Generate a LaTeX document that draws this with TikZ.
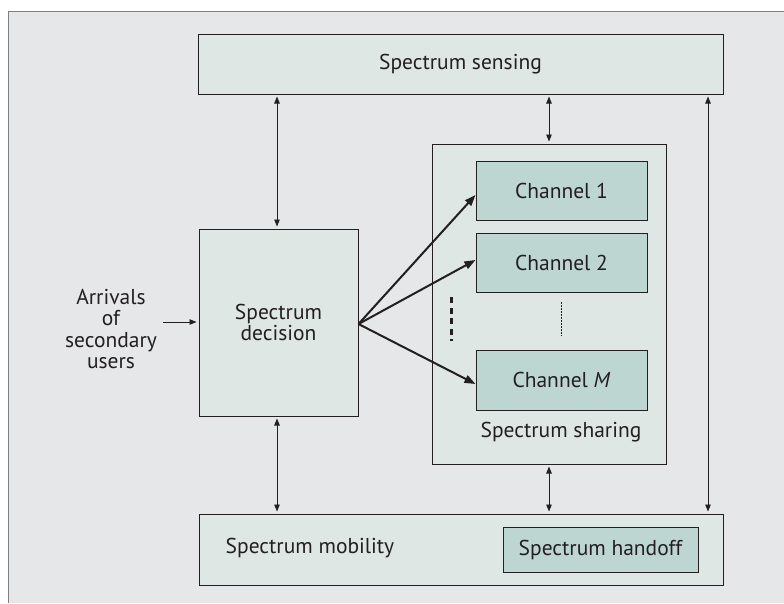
\documentclass[tikz,border=0pt]{standalone}
\usepackage{fontspec}
\setmainfont{PT Sans}
\usetikzlibrary{arrows.meta}
\definecolor{bgframe}{HTML}{E6E7E9}
\definecolor{framel}{HTML}{7F7F7F}
\definecolor{boxfill}{HTML}{DFE7E4}
\definecolor{chfill}{HTML}{BDD6D2}
\definecolor{ink}{HTML}{231F20}
\begin{document}
\begin{tikzpicture}[x=1pt,y=-1pt,
  font=\fontsize{21.5}{21.5}\selectfont,
  every node/.style={text=ink},
  bigbox/.style={draw=ink,line width=1pt,fill=boxfill,inner sep=0pt,anchor=center},
  chbox/.style={draw=ink,line width=1pt,fill=chfill,inner sep=0pt,anchor=center},
  biarrow/.style={draw=ink,line width=0.9pt,{Triangle[length=7pt,width=5.5pt]}-{Triangle[length=7pt,width=5.5pt]},shorten <=2pt,shorten >=2pt},
  onearrow/.style={draw=ink,line width=0.9pt,-{Triangle[length=7pt,width=5.5pt]},shorten >=2pt},
  fanarrow/.style={draw=ink,line width=2pt,-{Triangle[length=11pt,width=8pt]}}
]
\useasboundingbox (0,0) rectangle (784,603);
\fill[bgframe] (8,11) rectangle (784,603);
\draw[framel,line width=1pt] (8,603) -- (8,11) -- (784,11);

\node[bigbox,minimum width=525pt,minimum height=60pt] (sensing) at (460.5,64) {};
\node at (sensing.center) {Spectrum sensing};

\node[bigbox,minimum width=159pt,minimum height=187pt,align=center] (decision) at (278.5,322.5) {Spectrum\\decision};

\node[bigbox,minimum width=524pt,minimum height=71pt] (mobility) at (461,549.5) {};
\node (mobtext) at (310,548) {Spectrum mobility};
\node[chbox,minimum width=195pt,minimum height=45pt] (handoff) at (600.5,549.5) {Spectrum handoff};

\node[bigbox,minimum width=234pt,minimum height=320pt] (sharing) at (549,304) {};
\node (sharetext) at (561,432) {Spectrum sharing};
\node[chbox,minimum width=171pt,minimum height=59pt] (ch1) at (561.5,190.5) {Channel 1};
\node[chbox,minimum width=171pt,minimum height=59pt] (ch2) at (561.5,262.5) {Channel 2};
\node[chbox,minimum width=171pt,minimum height=60pt] (chM) at (561.5,380) {Channel \textit{M}};

\draw[ink,line width=1pt,dash pattern=on 1.5pt off 1.5pt] (561,302) -- (561,336);
\draw[ink,line width=3pt,dash pattern=on 6pt off 4.5pt] (451,297) -- (451,341);

\node[align=center] (arrivals) at (111,329) {Arrivals\\of\\secondary\\users};
\coordinate (ain) at (163,322);
\draw[onearrow] (ain) -- (ain -| decision.west);

\draw[fanarrow] ([yshift=-1.5pt]decision.east) -- ([yshift=-4.5pt]ch1.west);
\draw[fanarrow] ([yshift=-1.5pt]decision.east) -- ([yshift=2.5pt]ch2.west);
\draw[fanarrow] ([yshift=-1.5pt]decision.east) -- ([yshift=-4pt]chM.west);

\coordinate (lx) at (277,0);
\coordinate (rx) at (708,0);
\draw[biarrow] (sensing.south -| lx) -- (decision.north -| lx);
\draw[biarrow] (decision.south -| lx) -- (mobility.north -| lx);
\draw[biarrow] (sensing.south -| sharing.north) -- (sharing.north);
\draw[biarrow] (sharing.south) -- (sharing.south |- mobility.north);
\draw[biarrow] (sensing.south -| rx) -- (mobility.north -| rx);
\end{tikzpicture}
\end{document}
